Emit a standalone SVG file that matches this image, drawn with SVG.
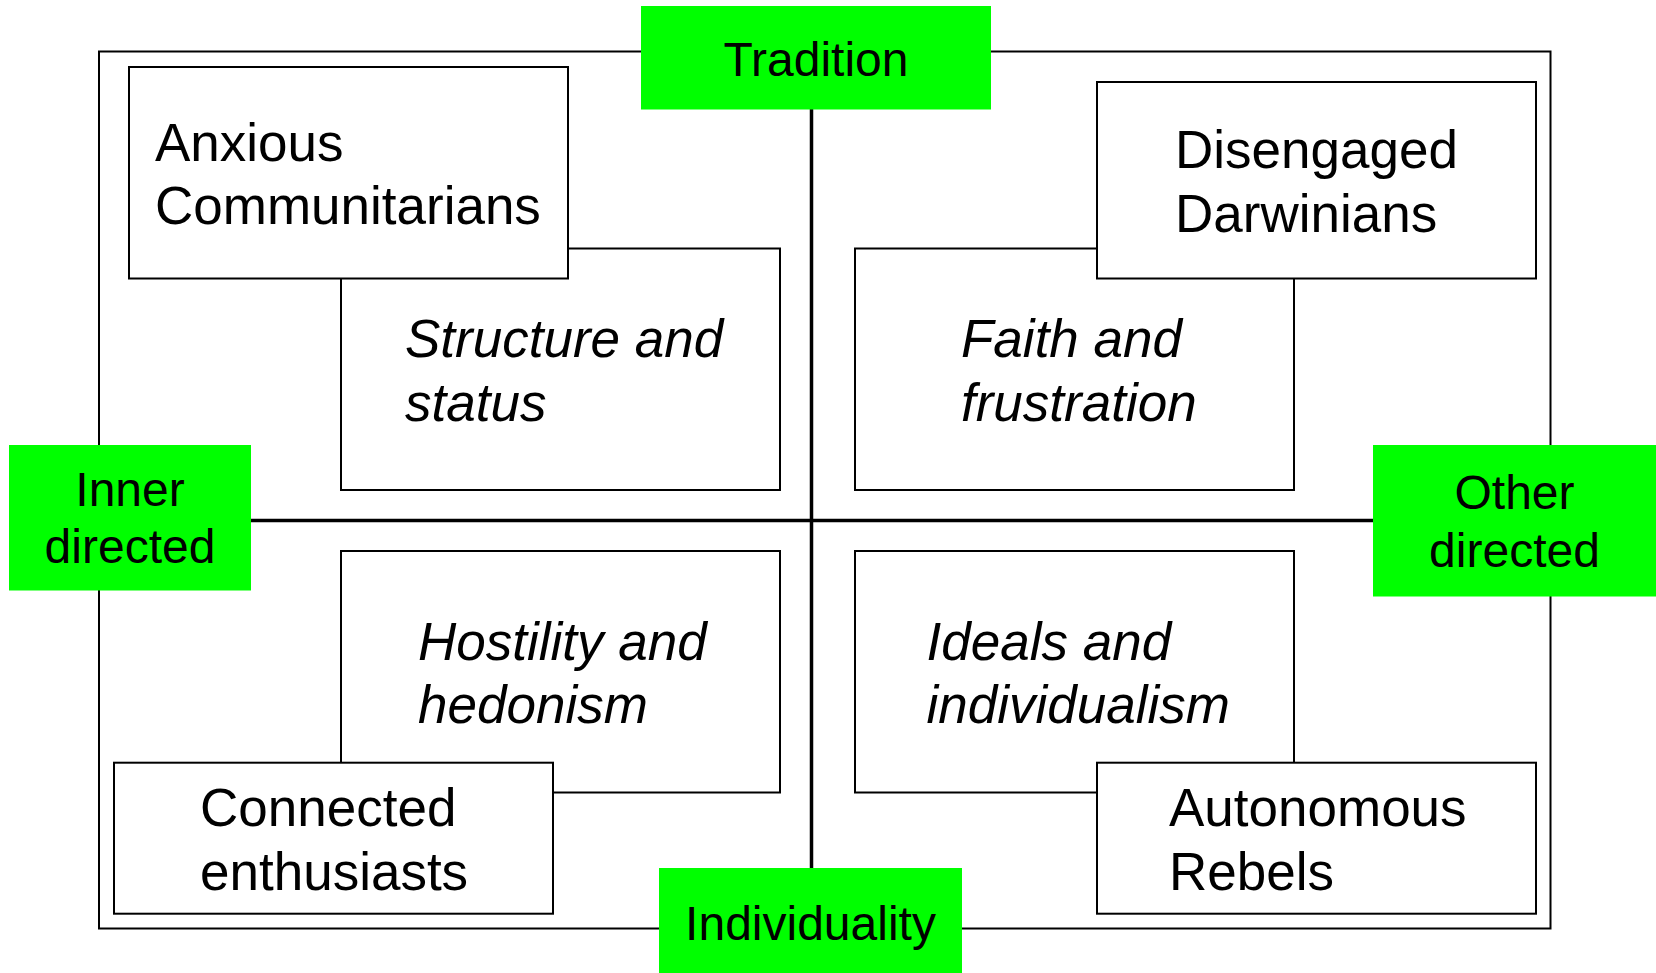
<svg xmlns="http://www.w3.org/2000/svg" width="1656" height="973" viewBox="0 0 1656 973">
<style>
  .frame{fill:none;stroke:#000;stroke-width:2}
  .box{fill:#fff;stroke:#000;stroke-width:2}
  .green{fill:#00ff00;stroke:none}
  .axis{stroke:#000;stroke-width:3.5;fill:none}
  .t{font-family:"Liberation Sans",Arial,sans-serif;font-size:53px;fill:#000}
  .i{font-style:italic}
  .g{font-family:"Liberation Sans",Arial,sans-serif;font-size:48px;fill:#000;text-anchor:middle}
</style>
<rect width="1656" height="973" fill="#fff"/>
<rect id="frame" class="frame" x="99" y="51.5" width="1451.5" height="877"/>
<g id="connectors">
  <line class="axis" x1="811.5" y1="108" x2="811.5" y2="869"/>
  <line class="axis" x1="250" y1="520.5" x2="1374" y2="520.5"/>
</g>
<g id="structure"><rect class="box" x="341" y="248.5" width="439" height="241.5"/>
  <text class="t i" x="405" y="357">Structure and</text><text class="t i" x="405" y="420.7">status</text></g>
<g id="anxious"><rect class="box" x="129" y="67" width="439" height="211.5"/>
  <text class="t" x="155" y="161">Anxious</text><text class="t" x="155" y="224.3">Communitarians</text></g>
<g id="faith"><rect class="box" x="855" y="248.5" width="439" height="241.5"/>
  <text class="t i" x="961" y="357">Faith and</text><text class="t i" x="961" y="420.7">frustration</text></g>
<g id="disengaged"><rect class="box" x="1097" y="82" width="439" height="196.5"/>
  <text class="t" x="1175" y="168">Disengaged</text><text class="t" x="1175" y="231.7">Darwinians</text></g>
<g id="hostility"><rect class="box" x="341" y="551" width="439" height="241.5"/>
  <text class="t i" x="418" y="659.7">Hostility and</text><text class="t i" x="418" y="723">hedonism</text></g>
<g id="connected"><rect class="box" x="114" y="762.7" width="439" height="151"/>
  <text class="t" x="200" y="825.7">Connected</text><text class="t" x="200" y="889.7">enthusiasts</text></g>
<g id="ideals"><rect class="box" x="855" y="551" width="439" height="241.5"/>
  <text class="t i" x="926.6" y="659.7">Ideals and</text><text class="t i" x="926.6" y="723">individualism</text></g>
<g id="autonomous"><rect class="box" x="1097" y="762.7" width="439" height="151"/>
  <text class="t" x="1169" y="825.7">Autonomous</text><text class="t" x="1169" y="889.7">Rebels</text></g>
<g id="tradition"><rect class="green" x="641" y="6" width="350" height="103.5"/>
  <text class="g" x="816" y="75.5">Tradition</text></g>
<g id="inner"><rect class="green" x="9" y="445" width="242" height="145.5"/>
  <text class="g" x="130" y="506">Inner</text><text class="g" x="130" y="563">directed</text></g>
<g id="other"><rect class="green" x="1373" y="445" width="283" height="151.5"/>
  <text class="g" x="1514.5" y="509">Other</text><text class="g" x="1514.5" y="567">directed</text></g>
<g id="individuality"><rect class="green" x="659" y="868" width="303" height="105"/>
  <text class="g" x="810.5" y="939.7">Individuality</text></g>
</svg>
